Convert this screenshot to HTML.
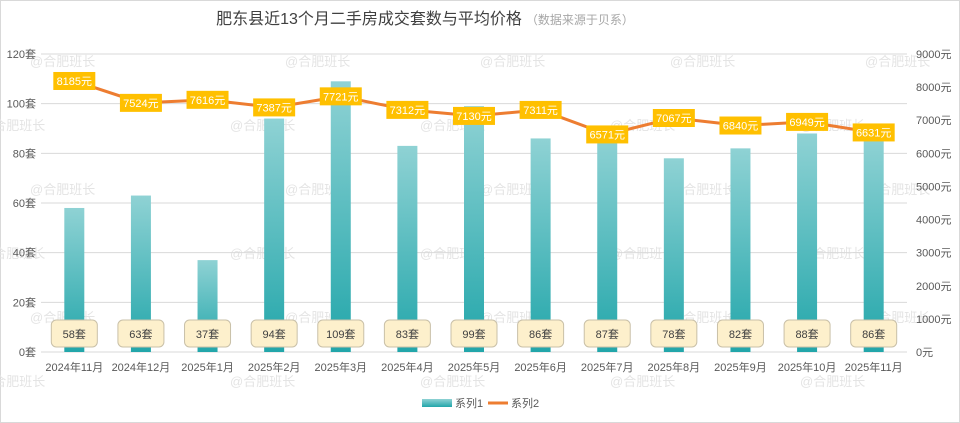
<!DOCTYPE html>
<html><head><meta charset="utf-8"><style>
html,body{margin:0;padding:0;background:#fff;}
svg{display:block;font-family:"Liberation Sans","Noto Sans CJK SC",sans-serif;}
</style></head><body>
<svg id="chart" width="960" height="423">
<defs><linearGradient id="bg" x1="0" y1="0" x2="0" y2="1"><stop offset="0" stop-color="#8fd2d4"/><stop offset="1" stop-color="#22a6aa"/></linearGradient></defs>
<rect x="0.5" y="0.5" width="959" height="422" fill="#fff" stroke="#d9d9d9"/>
<text x="425" y="24" font-size="16" fill="#404040" text-anchor="middle">肥东县近13个月二手房成交套数与平均价格<tspan font-size="12" fill="#a6a6a6" dx="4">（数据来源于贝系）</tspan></text>
<g id="wm"></g><g id="grid"></g><g id="bars"></g><g id="line"></g><g id="labels"></g><g id="axes"></g>
<g>
<rect x="422" y="399" width="30" height="8" fill="url(#bg)"/>
<text x="455" y="407" font-size="11" fill="#595959">系列1</text>
<line x1="488" y1="403" x2="508" y2="403" stroke="#ed7d31" stroke-width="3"/>
<text x="511" y="407" font-size="11" fill="#595959">系列2</text>
</g>
</svg>
<script>
const categories=["2024年11月","2024年12月","2025年1月","2025年2月","2025年3月","2025年4月","2025年5月","2025年6月","2025年7月","2025年8月","2025年9月","2025年10月","2025年11月"];
const counts=[58,63,37,94,109,83,99,86,87,78,82,88,86];
const prices=[8185,7524,7616,7387,7721,7312,7130,7311,6571,7067,6840,6949,6631];
const leftTicks=[0,20,40,60,80,100,120];
const rightTicks=[0,1000,2000,3000,4000,5000,6000,7000,8000,9000];
const NS="http://www.w3.org/2000/svg";
const X0=41,X1=907,Y0=352,Y1=54;
const step=(X1-X0)/categories.length;
const xc=i=>X0+step*(i+0.5);
const yL=v=>Y0-(v/120)*(Y0-Y1);
const yR=v=>Y0-(v/9000)*(Y0-Y1);
function mk(tag,attrs,parent,txt){const e=document.createElementNS(NS,tag);for(const k in attrs)e.setAttribute(k,attrs[k]);if(txt!==undefined)e.textContent=txt;document.getElementById(parent).appendChild(e);return e;}
// watermarks
const wmPos=[[30,66],[285,66],[480,66],[670,66],[865,66],[-20,130],[230,130],[420,130],[610,130],[800,130],[30,194],[285,194],[480,194],[670,194],[865,194],[-20,258],[230,258],[420,258],[610,258],[800,258],[30,322],[285,322],[480,322],[670,322],[865,322],[-20,386],[230,386],[420,386],[610,386],[800,386]];
wmPos.forEach(p=>{const t=mk('text',{x:p[0],y:p[1],'font-size':13,fill:'#e4e4e4'},'wm','@合肥班长');

});
leftTicks.forEach(v=>{const y=yL(v);
const l=mk('line',{x1:X0,x2:X1,y1:y,y2:y,stroke:'#d9d9d9','stroke-width':1},'grid');


const t=mk('text',{x:36,y:y+4,'font-size':11,fill:'#595959','text-anchor':'end'},'axes',v+'套');

});
rightTicks.forEach(v=>{const t=mk('text',{x:916,y:yR(v)+4,'font-size':11,fill:'#595959'},'axes',v+'元');

});
categories.forEach((c,i)=>{const x=xc(i);
const t=mk('text',{x:x,y:371,'font-size':11,fill:'#595959','text-anchor':'middle'},'axes',c);


const b=mk('rect',{x:x-10,y:yL(counts[i]),width:20,height:Y0-yL(counts[i]),fill:'url(#bg)'},'bars');


const r=mk('rect',{x:x-23,y:320,width:46,height:27,rx:5,fill:'#fdf0cc',stroke:'#c9c0a8'},'labels');


const lt=mk('text',{x:x,y:338,'font-size':11,fill:'#404040','text-anchor':'middle'},'labels',counts[i]+'套');

});
const pts=prices.map((p,i)=>xc(i)+','+yR(p)).join(' ');
const pl=mk('polyline',{points:pts,fill:'none',stroke:'#ed7d31','stroke-width':3,'stroke-linejoin':'round'},'line');


prices.forEach((p,i)=>{const x=xc(i),y=yR(p);
const r=mk('rect',{x:x-21,y:y-9,width:42,height:18,fill:'#ffc000'},'labels');


const t=mk('text',{x:x,y:y+4,'font-size':11,fill:'#fff','text-anchor':'middle'},'labels',p+'元');

});
</script>
</body></html>
